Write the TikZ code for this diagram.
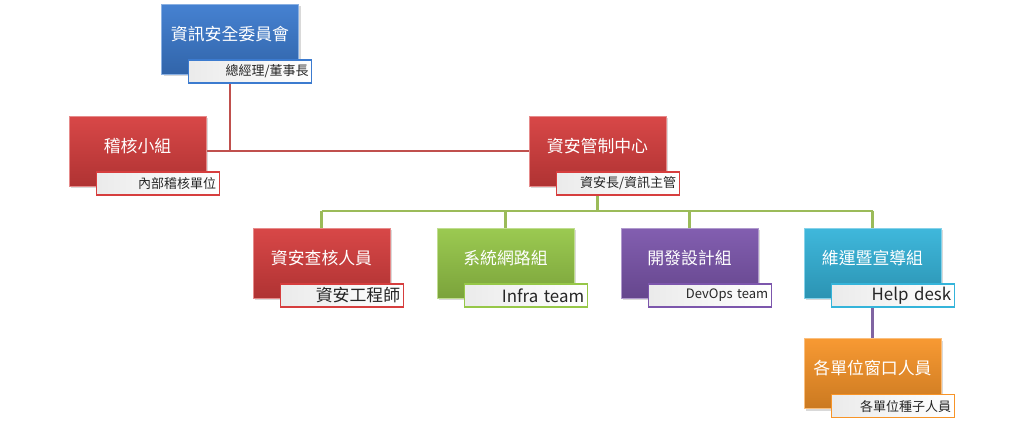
\documentclass[tikz,border=0pt]{standalone}
\usepackage{fontspec}
\newfontfamily\cjk{Noto Sans CJK TC}
\usetikzlibrary{arrows.meta, positioning, shadows, backgrounds, calc}
\definecolor{orgblue}{HTML}{3C7BCF}
\definecolor{orgred}{HTML}{D63E3E}
\definecolor{orggreen}{HTML}{96C748}
\definecolor{orgpurple}{HTML}{7C56AC}
\definecolor{orgcyan}{HTML}{35B4DA}
\definecolor{orgorange}{HTML}{F79428}
\definecolor{linered}{HTML}{C0504D}
\definecolor{linegreen}{HTML}{9BBB59}
\definecolor{linepurple}{HTML}{8064A2}
\tikzset{
  unitbox/.style={minimum width=2.74cm, minimum height=1.4cm, inner sep=0pt,
    text height=8pt, text depth=6.6pt, text=white,
    font=\cjk\fontsize{9.6}{11}\selectfont,
    top color=#1!95!white, bottom color=#1!82!black, draw=#1!60!white, line width=0.5pt,
    drop shadow={opacity=0.3, shadow xshift=1.2pt, shadow yshift=-1.2pt}},
  tag/.style={anchor=north west, xshift=0.54cm, yshift=0.3cm,
    minimum width=2.46cm, minimum height=0.46cm, inner xsep=0.06cm, inner ysep=0pt,
    text width=2.34cm, align=right, text=black!85,
    font=\cjk\fontsize{7.4}{9}\selectfont,
    left color=black!8, right color=white, draw=#1, line width=0.7pt},
  bigtag/.style={tag=#1, font=\cjk\fontsize{9.6}{11}\selectfont},
  link/.style={line width=1.3pt, draw=#1}
}
\begin{document}
\begin{tikzpicture}[x=0.02cm, y=-0.02cm]
      \useasboundingbox (0,0) rectangle (1024,435);
      % top levels
      \node[unitbox=orgblue] (board) at (230,39) {資訊安全委員會};
      \node[tag=orgblue] (boardtag) at (board.south west) {總經理/董事長};
      \node[unitbox=orgred] (audit) at (137.5,151) {稽核小組};
      \node[tag=orgred] (audittag) at (audit.south west) {內部稽核單位};
      \node[unitbox=orgred] (soc) at (597.5,151) {資安管制中心};
      \node[tag=orgred] (soctag) at (soc.south west) {資安長/資訊主管};
      % teams
      \node[unitbox=orgred] (check) at (321.5,263) {資安查核人員};
      \node[bigtag=orgred] (checktag) at (check.south west) {資安工程師};
      \node[unitbox=orggreen] (infra) at (505.5,263) {系統網路組};
      \node[bigtag=orggreen] (infratag) at (infra.south west) {Infra team};
      \node[unitbox=orgpurple] (devops) at (689.5,263) {開發設計組};
      \node[tag=orgpurple] (devopstag) at (devops.south west) {DevOps team};
      \node[unitbox=orgcyan] (ops) at (872.5,263) {維運暨宣導組};
      \node[bigtag=orgcyan] (opstag) at (ops.south west) {Help desk};
      \node[unitbox=orgorange] (seed) at (872.5,373.5) {各單位窗口人員};
      \node[tag=orgorange] (seedtag) at (seed.south west) {各單位種子人員};
      \coordinate (redjoin) at (230,151);
      \coordinate (greenjoin) at (597.5,211);
      % connectors
      \begin{scope}[on background layer]
        \draw[link=linered] (redjoin |- boardtag.south) -- (redjoin);
        \draw[link=linered] (audit.east) -- (soc.west);
        \draw[link=linegreen] (soc.south |- soctag.south) -- (greenjoin);
        \draw[link=linegreen] (check.north |- greenjoin) -- (ops.north |- greenjoin);
        \foreach \team in {check, infra, devops, ops}
          \draw[link=linegreen] (\team.north |- greenjoin) -- (\team.north);
        \draw[link=linepurple] (ops.south |- opstag.south) -- (seed.north);
      \end{scope}
    \end{tikzpicture}
\end{document}
